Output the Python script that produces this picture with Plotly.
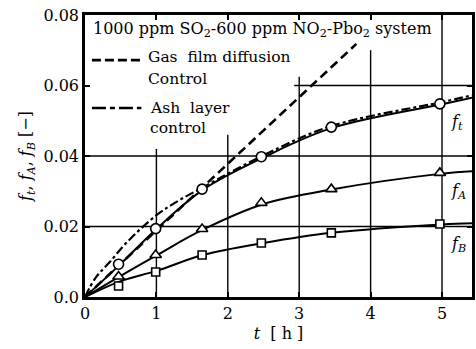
import plotly.graph_objects as go

# ---- data ----
t_meas = [0.47, 0.99, 1.64, 2.47, 3.45, 4.97]
ft_meas = [0.0093, 0.0194, 0.0306, 0.0398, 0.0482, 0.0548]
fA_meas = [0.0058, 0.0119, 0.0193, 0.0267, 0.0306, 0.0352]
fB_meas = [0.0031, 0.0071, 0.0119, 0.0153, 0.0182, 0.0207]

t_fit = [0, 0.5, 1.0, 1.65, 2.5, 3.45, 5.0, 5.42]
ft_fit = [0, 0.0094, 0.0193, 0.0304, 0.0396, 0.0479, 0.0547, 0.0565]
fA_fit = [0, 0.0060, 0.0118, 0.0191, 0.0264, 0.0305, 0.0350, 0.0357]
fB_fit = [0, 0.0045, 0.0074, 0.0119, 0.0153, 0.0182, 0.0206, 0.0209]

t_gas = [0, 3.8]
f_gas = [0, 0.0718]

t_ash = [0, 0.15, 0.35, 0.6, 1.0, 1.3, 1.65, 2.5, 3.45, 5.0, 5.42]
f_ash = [0, 0.0055, 0.0100, 0.0158, 0.0232, 0.0272, 0.0311, 0.0402, 0.0485, 0.0553, 0.0572]

x_ticks = [0, 1, 2, 3, 4, 5]
y_ticks = [0, 0.02, 0.04, 0.06, 0.08]
y_ticktext = ["0.0", "0.02", "0.04", "0.06", "0.08"]

FONT = "DejaVu Serif"
BLACK = "black"

fig = go.Figure()

# fitted curves
for y in (ft_fit, fA_fit, fB_fit):
    fig.add_trace(go.Scatter(x=t_fit, y=y, mode="lines", line=dict(color=BLACK, width=2, shape="spline"),
                             showlegend=False, hoverinfo="skip"))
# model lines
fig.add_trace(go.Scatter(x=t_ash, y=f_ash, mode="lines",
                         line=dict(color=BLACK, width=2.2, dash="9px,3px,3px,3px", shape="spline"),
                         showlegend=False))
fig.add_trace(go.Scatter(x=t_gas, y=f_gas, mode="lines",
                         line=dict(color=BLACK, width=2.6, dash="9px,5px"), showlegend=False))
# measured markers
for y, sym, sz in ((ft_meas, "circle", 10), (fA_meas, "triangle-up", 10), (fB_meas, "square", 8)):
    fig.add_trace(go.Scatter(x=t_meas, y=y, mode="markers",
                             marker=dict(symbol=sym, size=sz, color="white",
                                         line=dict(color=BLACK, width=1.6)),
                             showlegend=False))

# grid lines (partially hidden behind the legend block)
shapes = []
v_grid = [(1, 0.042), (2, 0.046), (3, 0.0625), (4, 0.070), (5, 0.08)]
for xv, ytop in v_grid:
    shapes.append(dict(type="line", xref="x", yref="y", x0=xv, x1=xv, y0=0, y1=ytop,
                       line=dict(color=BLACK, width=1.4), layer="below"))
h_grid = [(0.02, 0), (0.04, 0), (0.06, 2.93)]
for yv, xs in h_grid:
    shapes.append(dict(type="line", xref="x", yref="y", x0=xs, x1=5.42, y0=yv, y1=yv,
                       line=dict(color=BLACK, width=1.4), layer="below"))
# legend samples
shapes.append(dict(type="line", xref="x", yref="y", x0=0.097, x1=0.79, y0=0.0672, y1=0.0672,
                   line=dict(color=BLACK, width=2.6, dash="9px,4px")))
shapes.append(dict(type="line", xref="x", yref="y", x0=0.097, x1=0.79, y0=0.0536, y1=0.0536,
                   line=dict(color=BLACK, width=2.6, dash="14px,4px,5px,4px")))

annotations = [
    dict(x=0.08, y=0.0758, xref="x", yref="y", xanchor="left", yanchor="middle", showarrow=False,
         text="1000 ppm SO<sub>2</sub>-600 ppm NO<sub>2</sub>-Pbo<sub>2</sub> system",
         font=dict(family=FONT, size=16, color=BLACK)),
    dict(x=0.86, y=0.0681, xref="x", yref="y", xanchor="left", yanchor="middle", showarrow=False,
         text="Gas  film diffusion", font=dict(family=FONT, size=15.5, color=BLACK)),
    dict(x=0.86, y=0.0619, xref="x", yref="y", xanchor="left", yanchor="middle", showarrow=False,
         text="Control", font=dict(family=FONT, size=15.5, color=BLACK)),
    dict(x=0.88, y=0.0536, xref="x", yref="y", xanchor="left", yanchor="middle", showarrow=False,
         text="Ash  layer", font=dict(family=FONT, size=15.5, color=BLACK)),
    dict(x=0.88, y=0.0480, xref="x", yref="y", xanchor="left", yanchor="middle", showarrow=False,
         text="control", font=dict(family=FONT, size=15.5, color=BLACK)),
    dict(x=5.1, y=0.0496, xref="x", yref="y", xanchor="left", yanchor="middle", showarrow=False,
         text="<i>f<sub>t</sub></i>", font=dict(family=FONT, size=16, color=BLACK)),
    dict(x=5.1, y=0.0298, xref="x", yref="y", xanchor="left", yanchor="middle", showarrow=False,
         text="<i>f<sub>A</sub></i>", font=dict(family=FONT, size=16, color=BLACK)),
    dict(x=5.1, y=0.0148, xref="x", yref="y", xanchor="left", yanchor="middle", showarrow=False,
         text="<i>f<sub>B</sub></i>", font=dict(family=FONT, size=16, color=BLACK)),
]

fig.update_layout(
    width=476, height=349,
    margin=dict(l=85, r=1, t=15, b=52),
    paper_bgcolor="white", plot_bgcolor="white",
    shapes=shapes, annotations=annotations,
    font=dict(family=FONT, size=16, color=BLACK),
    xaxis=dict(range=[0, 5.42], tickvals=x_ticks, showgrid=False, zeroline=False,
               showline=True, linecolor=BLACK, linewidth=2.5, mirror="ticks",
               ticks="inside", ticklen=5, tickwidth=1.5, tickcolor=BLACK,
               tickfont=dict(family=FONT, size=16),
               title=dict(text="<i>t</i>  [ h ]", font=dict(family=FONT, size=16), standoff=6)),
    yaxis=dict(range=[0, 0.08], tickvals=y_ticks, ticktext=y_ticktext, showgrid=False, zeroline=False,
               showline=True, linecolor=BLACK, linewidth=2.5, mirror="ticks",
               ticks="inside", ticklen=5, tickwidth=1.5, tickcolor=BLACK,
               tickfont=dict(family=FONT, size=16),
               title=dict(text="<i>f<sub>t</sub></i>, <i>f<sub>A</sub></i>, <i>f<sub>B</sub></i> [−]",
                          font=dict(family=FONT, size=16), standoff=8)),
)

fig.write_html("out.html", config={"displayModeBar": False},
               post_script="document.body.style.margin='0';")
